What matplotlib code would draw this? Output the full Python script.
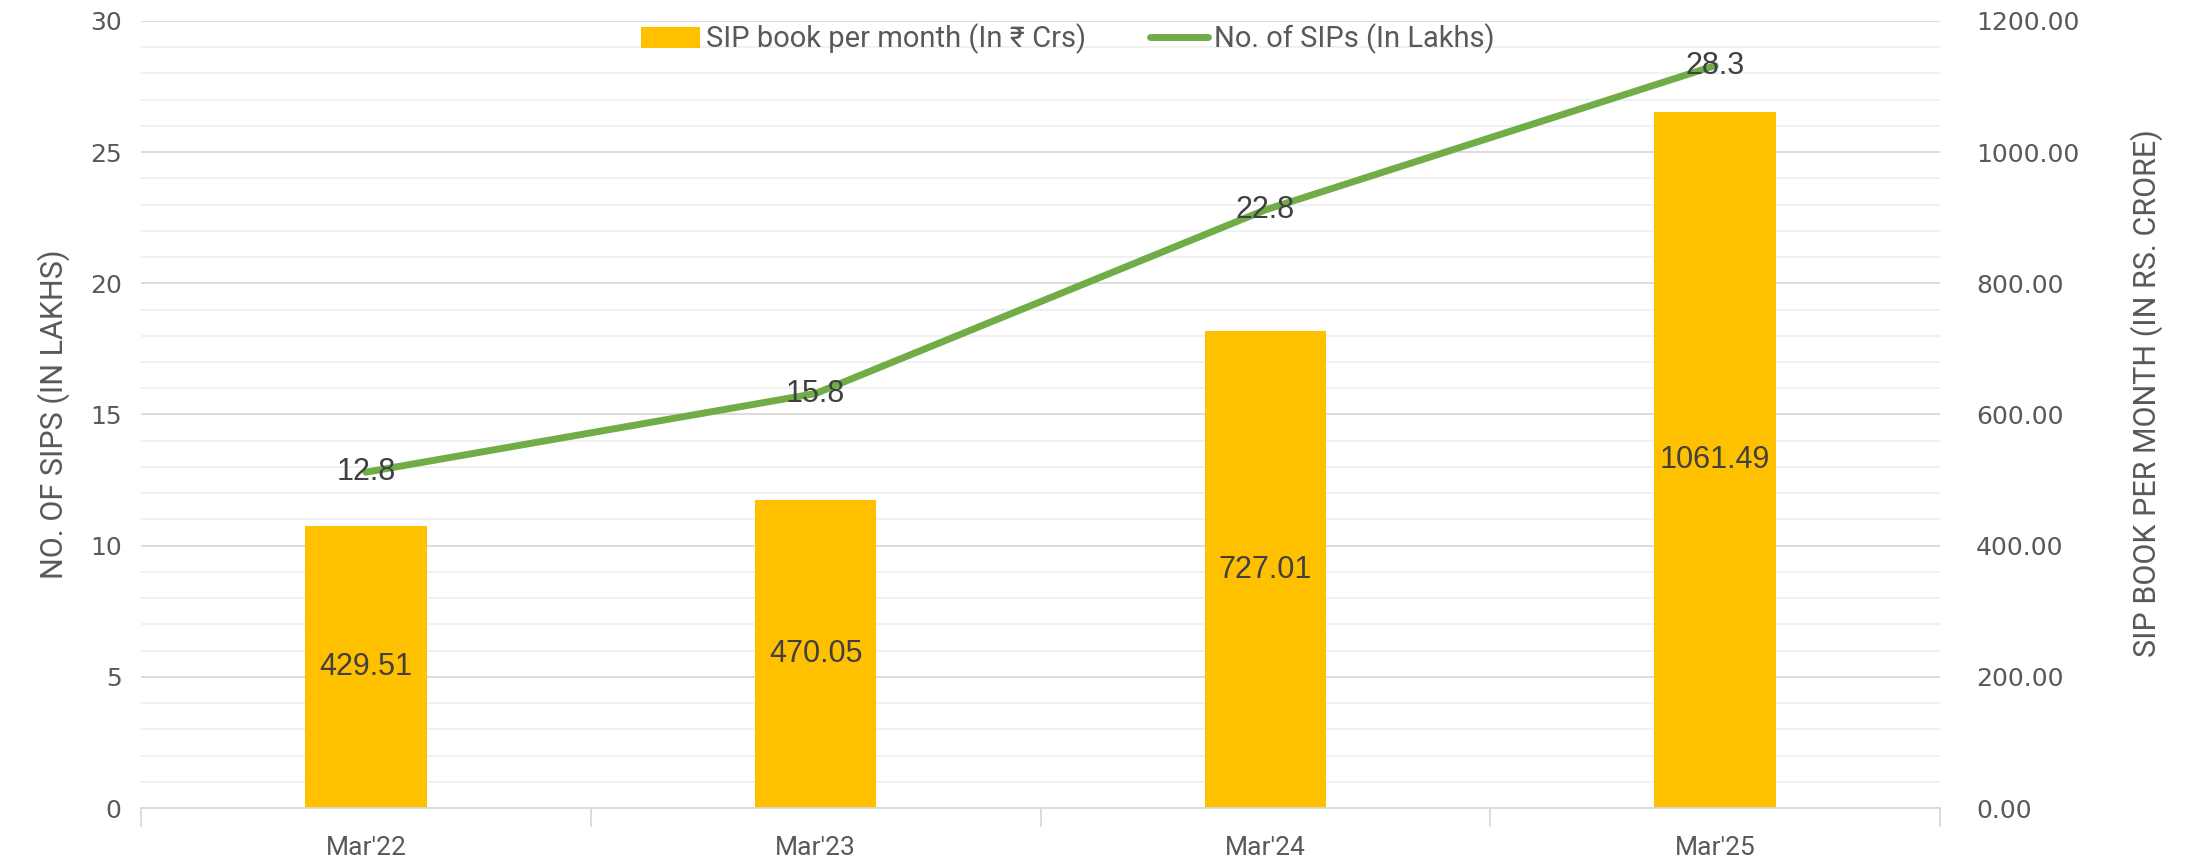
import matplotlib
matplotlib.use("Agg")
import matplotlib.pyplot as plt
from matplotlib.ticker import MultipleLocator, FormatStrFormatter
import numpy as np

categories = ["Mar'22", "Mar'23", "Mar'24", "Mar'25"]
sip_book = [429.51, 470.05, 727.01, 1061.49]   # Rs crore, right axis
sip_count = [12.8, 15.8, 22.8, 28.3]            # lakhs, left axis

BAR_COLOR = "#FFC000"
LINE_COLOR = "#70AD47"
TEXT_COLOR = "#595959"
LABEL_COLOR = "#404040"
NARROW = ["Roboto", "DejaVu Sans"]
ARIAL = ["Liberation Sans", "DejaVu Sans"]

fig = plt.figure(figsize=(21.88, 8.65), dpi=100)
ax_bar = fig.add_axes([141 / 2188, 1 - 808 / 865, (1940 - 141) / 2188, (808 - 21) / 865])
ax_line = ax_bar.twinx()

x = np.arange(len(categories))

# bars on right scale
ax_bar.set_ylim(0, 1200)
ax_bar.yaxis.tick_right()
ax_bar.yaxis.set_major_locator(MultipleLocator(200))
ax_bar.yaxis.set_minor_locator(MultipleLocator(40))
ax_bar.yaxis.set_major_formatter(FormatStrFormatter("%.2f"))
ax_bar.grid(which="major", axis="y", color="#d9d9d9", linewidth=1.3)
ax_bar.grid(which="minor", axis="y", color="#f0f0f0", linewidth=1.3)
ax_bar.set_axisbelow(True)
bars = ax_bar.bar(x, sip_book, width=0.27, color=BAR_COLOR, zorder=2,
                  label="SIP book per month (In \u20b9 Crs)")
for xi, v in zip(x, sip_book):
    ax_bar.text(xi, v / 2, f"{v:.2f}", ha="center", va="center",
                fontsize=22, color=LABEL_COLOR, family=ARIAL, zorder=3)

# line on left scale
ax_line.yaxis.tick_left()
ax_line.yaxis.set_label_position("left")
ax_line.set_ylim(0, 30)
ax_line.yaxis.set_major_locator(MultipleLocator(5))
line, = ax_line.plot(x, sip_count, color=LINE_COLOR, linewidth=5,
                     solid_capstyle="round", label="No. of SIPs (In Lakhs)")
for xi, v in zip(x, sip_count):
    ax_line.text(xi, v, f"{v}", ha="center", va="center",
                 fontsize=22, color=LABEL_COLOR, family=ARIAL, zorder=5)

ax_bar.set_xlim(-0.5, len(categories) - 0.5)
ax_bar.set_xticks(x)
ax_bar.set_xticklabels(categories, fontsize=19, color=TEXT_COLOR, family=NARROW)
ax_bar.set_xticks(np.arange(len(categories) + 1) - 0.5, minor=True)
ax_bar.tick_params(axis="x", which="major", length=0, pad=20)
ax_bar.tick_params(axis="x", which="minor", length=14, color="#d9d9d9", width=1.3)

for a in (ax_bar, ax_line):
    for s in ("top", "left", "right"):
        a.spines[s].set_visible(False)
    a.spines["bottom"].set_color("#d9d9d9")
    a.spines["bottom"].set_linewidth(1.3)
ax_line.spines["bottom"].set_visible(False)

ax_bar.tick_params(axis="y", which="both", length=0, labelsize=18,
                   labelcolor=TEXT_COLOR, pad=26)
ax_line.tick_params(axis="y", which="both", length=0, labelsize=18,
                    labelcolor=TEXT_COLOR, pad=14)

ax_line.set_ylabel("NO. OF SIPS (IN LAKHS)", fontsize=22, color=TEXT_COLOR,
                   family=NARROW, labelpad=14)
ax_bar.set_ylabel("SIP BOOK PER MONTH (IN RS. CRORE)", fontsize=22,
                  color=TEXT_COLOR, family=NARROW, rotation=90)
ax_bar.yaxis.set_label_position("right")
ax_bar.yaxis.set_label_coords(1.106, 0.527)

leg = ax_line.legend([bars, line], [bars.get_label(), line.get_label()],
                     loc="center", bbox_to_anchor=(1068 / 2188, 1 - 39 / 865),
                     bbox_transform=fig.transFigure, ncol=2, frameon=False,
                     handlelength=2.0, columnspacing=2.2, handletextpad=0.2,
                     prop={"family": NARROW, "size": 21})
for t in leg.get_texts():
    t.set_color(TEXT_COLOR)

fig.savefig("out.png", dpi=100)
